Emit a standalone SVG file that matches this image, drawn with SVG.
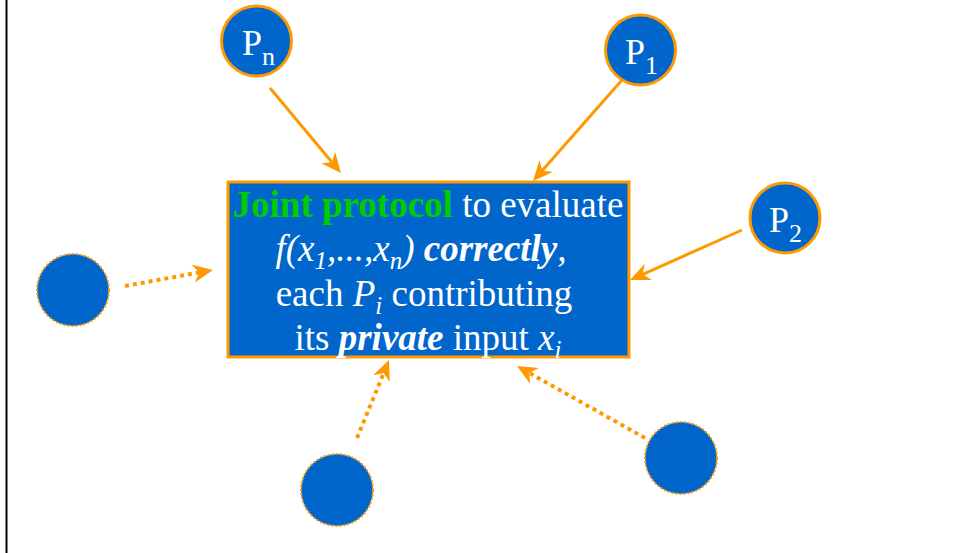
<svg xmlns="http://www.w3.org/2000/svg" width="953" height="553" viewBox="0 0 953 553">
<style>
.node{fill:#0066CC;stroke:#FF9900;stroke-width:3}
.ghost{fill:#0066CC;stroke:#FF9900;stroke-width:2;stroke-dasharray:2 2}
.solid{stroke:#FF9900;stroke-width:3;fill:none}
.dotted{stroke:#FF9900;stroke-width:4;stroke-dasharray:4 4;fill:none}
.lbl{font-family:"Liberation Serif","Times New Roman",serif;fill:#FFFFFF}
.box{font-family:"Liberation Serif","Times New Roman",serif;font-size:37px;fill:#FFFFFF}
.b{font-weight:bold}
.i{font-style:italic}
.g{fill:#00CC00;font-weight:bold}
</style>
<defs>
<marker id="ah" viewBox="-20 -10 20 20" refX="-14" refY="0" markerWidth="20" markerHeight="20" markerUnits="userSpaceOnUse" orient="auto">
<path d="M0,0 L-20,-9 L-14,0 L-20,9 Z" fill="#FF9900"/>
</marker>
</defs>
<rect width="953" height="553" fill="#FFFFFF"/>
<line x1="6.5" y1="0" x2="6.5" y2="553" stroke="#000000" stroke-width="2"/>
<g id="connectors">
<line class="solid" x1="270" y1="88" x2="332" y2="162.2" marker-end="url(#ah)"/>
<line class="solid" x1="622" y1="80" x2="542.3" y2="170.5" marker-end="url(#ah)"/>
<line class="solid" x1="742" y1="230" x2="642.8" y2="274.3" marker-end="url(#ah)"/>
<line class="dotted" x1="125" y1="286" x2="199.2" y2="272.5" marker-end="url(#ah)"/>
<line class="dotted" x1="357" y1="438" x2="383.7" y2="373" marker-end="url(#ah)"/>
<line class="dotted" x1="645" y1="438" x2="529.2" y2="372.9" marker-end="url(#ah)"/>
</g>
<g id="protocol">
<rect x="228" y="182" width="401" height="175" fill="#0066CC" stroke="#FF9900" stroke-width="3"/>
<text class="box" x="428" y="217" text-anchor="middle"><tspan class="g">Joint protocol</tspan> to evaluate</text>
<text class="box" x="421" y="261" text-anchor="middle"><tspan class="i">f(x</tspan><tspan class="i" font-size="25" dy="8">1</tspan><tspan class="i" dy="-8">,...,x</tspan><tspan class="i" font-size="25" dy="8">n</tspan><tspan class="i" dy="-8">) </tspan><tspan class="b i">correctly</tspan><tspan class="i">,</tspan></text>
<text class="box" x="424" y="306" text-anchor="middle">each <tspan class="i">P</tspan><tspan class="i" font-size="25" dy="8">i</tspan><tspan dy="-8"> contributing</tspan></text>
<text class="box" x="428" y="350" text-anchor="middle">its <tspan class="b i">private</tspan> input <tspan class="i">x</tspan><tspan class="i" font-size="25" dy="8">i</tspan></text>
</g>
<g id="pn">
<circle class="node" cx="256.5" cy="41" r="35"/>
<text class="lbl" x="242" y="55" font-size="36">P<tspan font-size="26" dy="10">n</tspan></text>
</g>
<g id="p1">
<circle class="node" cx="640.5" cy="50" r="35"/>
<text class="lbl" x="625" y="64" font-size="36">P<tspan font-size="26" dy="10">1</tspan></text>
</g>
<g id="p2">
<circle class="node" cx="785" cy="218" r="35"/>
<text class="lbl" x="769" y="232" font-size="36">P<tspan font-size="26" dy="10">2</tspan></text>
</g>
<g id="ghost-left"><circle class="ghost" cx="73" cy="290" r="36"/></g>
<g id="ghost-bottom"><circle class="ghost" cx="337" cy="490" r="36"/></g>
<g id="ghost-right"><circle class="ghost" cx="681" cy="458" r="36"/></g>
</svg>
